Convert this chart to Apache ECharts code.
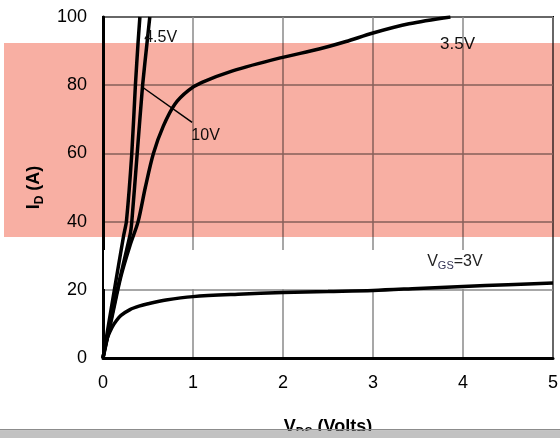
<!DOCTYPE html>
<html><head><meta charset="utf-8">
<script src="https://cdn.jsdelivr.net/npm/echarts@6/dist/echarts.min.js"></script>
<style>html,body{margin:0;padding:0;background:#fff}#c{width:560px;height:438px}</style>
</head><body><div id="c"></div>
<script>
// Axis ticks
const xTicks = [0, 1, 2, 3, 4, 5];
const yTicks = [0, 20, 40, 60, 80, 100];

// V_GS = 3V
const v3X = [0, 0.02, 0.05, 0.1, 0.15, 0.2, 0.3, 0.4, 0.5, 0.7, 1, 1.5, 2, 2.5, 3, 3.5, 4, 4.5, 5];
const v3Y = [0, 3, 6, 9, 11, 12.5, 14.2, 15.2, 15.9, 17, 18, 18.7, 19.2, 19.5, 19.8, 20.4, 21, 21.5, 22];

// V_GS = 3.5V
const v35X = [0, 0.1, 0.2, 0.3, 0.39, 0.47, 0.56, 0.67, 0.8, 0.95, 1.1, 1.44, 1.97, 2.4, 2.7, 3.0, 3.4, 3.86];
const v35Y = [0, 12, 24, 33, 40, 50, 60, 68, 74.5, 78.5, 80.8, 84.2, 88, 90.6, 92.8, 95.3, 98, 100];

// V_GS = 4.5V
const v45X = [0, 0.15, 0.3, 0.32, 0.38, 0.44, 0.49, 0.52];
const v45Y = [0, 19, 36, 40, 60, 80, 92.6, 100];

// V_GS = 10V
const v10X = [0, 0.12, 0.23, 0.26, 0.32, 0.36, 0.39, 0.41];
const v10Y = [0, 19, 36, 40, 60, 80, 92.6, 100];

const zip = (xs, ys) => xs.map((x, i) => [x, ys[i]]);
const lineStyle = { color: '#000', width: 3.5 };
const font = 'Liberation Sans, Arial, sans-serif';

const chart = echarts.init(document.getElementById('c'), null, { renderer: 'canvas' });
const lbl = (coord, text, extra) => ({
  coord, value: text, symbolSize: 0,
  label: Object.assign({ show: true, position: 'inside', formatter: text, color: '#111', fontSize: 15, fontFamily: font }, extra || {})
});
const nameRich = {
  a: { fontSize: 18, fontWeight: 'bold', fontFamily: font, color: '#000', lineHeight: 24 },
  b: { fontSize: 12, fontWeight: 'bold', fontFamily: font, color: '#000', lineHeight: 12, verticalAlign: 'bottom' }
};

chart.setOption({
  animation: false,
  grid: { left: 103, right: 7, top: 17, bottom: 80, containLabel: false, outerBoundsMode: 'none',
    show: true, borderColor: '#000', borderWidth: 2, backgroundColor: 'transparent' },
  xAxis: {
    type: 'value', min: xTicks[0], max: xTicks[xTicks.length - 1], interval: 1,
    axisLine: { show: true, lineStyle: { color: '#000', width: 3 } },
    axisTick: { show: false },
    axisLabel: { color: '#000', fontSize: 18, fontFamily: font, margin: 16 },
    splitLine: { show: true, lineStyle: { color: '#8a8a8a', width: 1.5 } },
    name: '{a|V}{b|DS}{a| (Volts)}', nameLocation: 'middle', nameGap: 57,
    nameTextStyle: { rich: nameRich }
  },
  yAxis: {
    type: 'value', min: yTicks[0], max: yTicks[yTicks.length - 1], interval: 20,
    axisLine: { show: true, lineStyle: { color: '#000', width: 3 } },
    axisTick: { show: false },
    axisLabel: { color: '#000', fontSize: 18, fontFamily: font, margin: 16 },
    splitLine: { show: true, lineStyle: { color: '#8a8a8a', width: 1.5 } },
    name: '{a|I}{b|D}{a| (A)}', nameLocation: 'middle', nameGap: 44, nameRotate: 90,
    nameTextStyle: { rich: nameRich }
  },
  graphic: [
    { type: 'rect', z: 1, shape: { x: 104, y: 250, width: 448, height: 39 }, style: { fill: '#fff' } },
    { type: 'rect', z: 100, shape: { x: 4, y: 43, width: 556, height: 194 }, style: { fill: '#f8afa3', blend: 'multiply' } },
    { type: 'rect', z: 101, shape: { x: 0, y: 431, width: 560, height: 7 }, style: { fill: '#c2c2c2' } },
    { type: 'rect', z: 101, shape: { x: 0, y: 429, width: 560, height: 1.5 }, style: { fill: '#8c8c8c' } }
  ],
  series: [
    { type: 'line', data: zip(v3X, v3Y), showSymbol: false, smooth: 0.3, lineStyle, z: 3,
      markPoint: { data: [lbl([3.91, 28.2], '{a|V}{b|GS}{a|=3V}', { color: '#222', rich: {
        a: { fontSize: 16, fontFamily: font, color: '#222', lineHeight: 20 },
        b: { fontSize: 11, fontFamily: font, color: '#335', lineHeight: 10, verticalAlign: 'bottom' } } })] } },
    { type: 'line', data: zip(v35X, v35Y), showSymbol: false, smooth: 0.3, lineStyle, z: 3,
      markPoint: { data: [lbl([3.94, 92.1], '3.5V', { fontSize: 17 })] } },
    { type: 'line', data: zip(v45X, v45Y), showSymbol: false, smooth: 0.2, lineStyle, z: 3,
      markPoint: { data: [lbl([0.64, 94.1], '4.5V', { fontSize: 16 })] } },
    { type: 'line', data: zip(v10X, v10Y), showSymbol: false, smooth: 0.2, lineStyle, z: 3,
      markLine: { symbol: 'none', silent: true, label: { show: false }, lineStyle: { color: '#000', width: 1.5, type: 'solid' },
        data: [[{ coord: [0.44, 79.4] }, { coord: [0.99, 69.1] }]] },
      markPoint: { data: [lbl([1.14, 65.3], '10V', { fontSize: 16 })] } }
  ]
});
</script></body></html>
